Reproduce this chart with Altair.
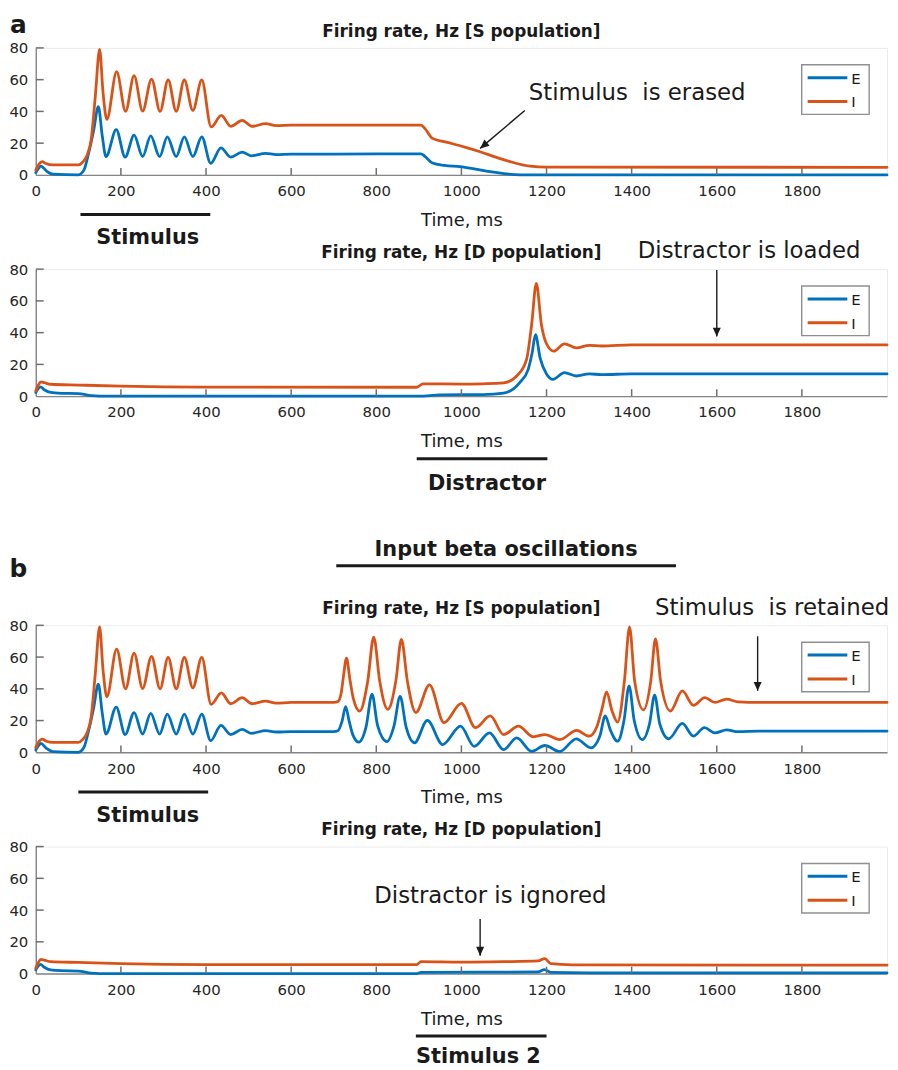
import altair as alt
import pandas as pd

W, H = 858, 128
BLUE, ORANGE = "#0072BD", "#D95319"
INK = "#1a1a1a"
AXIS_GRAY = "#858585"
FONT = "DejaVu Sans"

X_TICKS = [0, 200, 400, 600, 800, 1000, 1200, 1400, 1600, 1800]
Y_TICKS = [0, 20, 40, 60, 80]
POPS = ["E", "I"]

# ---- S population, shared first 700 ms (stimulus period) ----
S_E_T = [0, 6, 12, 25, 40, 100, 113, 124, 136, 147, 156, 165, 189, 210, 231, 251, 270, 291, 309, 330,
         349, 369, 390, 411, 435, 458, 485, 506, 540, 565, 600, 700]
S_E_V = [1.5, 4, 5.6, 2.5, 0.5, 0, 3, 13.5, 28, 43, 25, 11.5, 28.5, 11.2, 25, 11.5, 24.6, 11.5, 24, 11.5,
         24, 11.5, 24, 7.3, 17, 11.2, 14.4, 12, 13.6, 12.8, 13.1, 13.1]
S_I_T = [0, 8, 15, 25, 40, 100, 110, 120, 130, 140, 150, 158, 167, 190, 211, 231, 251, 272, 292, 311,
         330, 349, 369, 390, 412, 436, 458, 485, 508, 540, 565, 600, 700]
S_I_V = [3, 7, 8.3, 7, 6.3, 6.3, 8, 12, 22, 50, 79, 52, 35, 65, 40, 62.5, 40.2, 60.4, 40, 59.8,
         40, 59.8, 40.6, 59.8, 30.2, 37.5, 30.6, 34.4, 30.6, 32.3, 31, 31.4, 31.4]

# ---- panel a, S population after 700 ms (erased) ----
A_S_E_T = [905, 915, 932, 960, 997, 1030, 1067, 1100, 1125, 1150, 2000]
A_S_E_V = [13.3, 11.5, 7.5, 6, 5.2, 3.8, 2, 0.8, 0.2, 0, 0]
A_S_I_T = [905, 915, 932, 967, 1006, 1044, 1083, 1122, 1161, 1200, 2000]
A_S_I_V = [31.4, 29, 23, 20.5, 17.7, 14.6, 11, 7.8, 5.5, 4.9, 4.8]

# ---- D population, shared start ----
D_E_T = [0, 5, 11, 20, 35, 60, 100, 130, 150]
D_E_V = [2.3, 4.5, 5.8, 4, 2.3, 1.8, 1.6, 0.3, 0]
D_I_T = [0, 6, 12, 20, 35, 100, 200, 400]
D_I_V = [3.3, 7, 9, 8.5, 7.5, 7, 6.3, 5.7]

# ---- panel a, D population (distractor loaded) ----
A_D_E_T = [900, 950, 1050, 1099, 1137, 1157, 1166, 1174, 1185, 1200, 1215, 1242, 1270, 1300, 1330, 1400, 2000]
A_D_E_V = [0, 0.8, 1, 1.9, 8.5, 16.9, 27, 38.7, 24, 14, 10.6, 14.8, 12.7, 14, 13.6, 14, 14]
A_D_I_T = [895, 910, 1000, 1050, 1099, 1130, 1153, 1165, 1176, 1188, 1200, 1217, 1242, 1270, 1300, 1330, 1400, 2000]
A_D_I_V = [5.6, 7.8, 7.6, 7.8, 8.3, 12.7, 23, 45, 71, 45, 33, 28.3, 33, 30.4, 32, 31.6, 32.3, 32.3]

# ---- panel b, S population after 700 ms (beta input, retained) ----
B_S_E_T = [710, 720, 728, 736, 745, 759, 776, 790, 803, 825, 842, 856, 870, 890, 920, 956, 998, 1030, 1066, 1099,
           1130, 1165, 1196, 1231, 1270, 1304, 1325, 1338, 1350, 1367, 1382, 1394, 1406, 1425, 1442, 1454, 1466,
           1487, 1519, 1545, 1571, 1596, 1623, 1650, 1700, 2000]
B_S_E_V = [13.6, 20, 28.8, 20, 11, 6.4, 16, 36.6, 17, 6.8, 17, 35.2, 16, 6, 20.1, 4.9, 16.5, 3.8, 12.3, 1.7,
           9.1, 0.6, 4.3, 0.5, 8.5, 2.8, 10, 22.9, 14, 7, 20, 41.9, 20, 8, 18, 36, 18,
           8.5, 18.2, 10.2, 15.5, 12.3, 14.1, 13, 13.3, 13.3]
B_S_I_T = [710, 718, 723, 730, 738, 746, 761, 780, 794, 808, 827, 846, 859, 873, 893, 925, 959, 1000, 1033, 1068,
           1099, 1134, 1169, 1196, 1231, 1271, 1300, 1318, 1330, 1341, 1354, 1367, 1383, 1395, 1407, 1428, 1445,
           1456, 1468, 1491, 1519, 1545, 1572, 1596, 1623, 1650, 1700, 2000]
B_S_I_V = [32, 38, 48, 59.3, 46, 34, 26, 45, 72.6, 45, 27.1, 45, 71.1, 45, 25, 42.5, 18.7, 30.9, 15.5, 22.9,
           11.2, 16.5, 9.8, 11.2, 8, 13.8, 10.2, 16, 27, 38, 26, 19, 45, 79, 45, 26.7, 45,
           71.5, 45, 26, 38.7, 29.6, 34.5, 31.4, 33.5, 31.8, 31.4, 31.4]

# ---- panel b, D population (distractor ignored) ----
B_D_E_T = [895, 905, 1180, 1195, 1210, 1300, 2000]
B_D_E_V = [0, 0.8, 1, 2.5, 0.8, 0.5, 0.5]
B_D_I_T = [895, 905, 1000, 1100, 1180, 1196, 1210, 1260, 2000]
B_D_I_V = [5.6, 7.5, 7.2, 7.5, 8, 9.4, 6.2, 5.5, 5.3]

x_scale = alt.Scale(domain=[0, 2000], nice=False, zero=False)
y_scale = alt.Scale(domain=[0, 80], nice=False, zero=False)
c_scale = alt.Scale(domain=POPS, range=[BLUE, ORANGE])

X = alt.X("t:Q", scale=x_scale, axis=alt.Axis(values=X_TICKS, title="Time, ms", format="d"))
Y = alt.Y("v:Q", scale=y_scale, axis=alt.Axis(values=Y_TICKS, title=None, format="d"))


def curve(tE, vE, tI, vI):
    return pd.DataFrame({
        "t": list(tE) + list(tI),
        "v": list(vE) + list(vI),
        "pop": ["E"] * len(tE) + ["I"] * len(tI),
    })


ONE = pd.DataFrame({"k": [0]})


def panel(df, title, notes, labels, bars, arrows, letter=None):
    layers = []
    layers.append(
        alt.Chart(df).mark_line(interpolate="monotone", strokeWidth=2.8, strokeJoin="round", strokeCap="round")
        .encode(x=X, y=Y, color=alt.Color("pop:N", scale=c_scale, legend=None))
    )
    # inward ticks (MATLAB style)
    layers.append(
        alt.Chart(pd.DataFrame({"t": X_TICKS[1:]}))
        .mark_tick(color="#6e6e6e", thickness=1.5, size=7, opacity=1, orient="vertical")
        .encode(x=X, y=alt.value(H - 3.5))
    )
    layers.append(
        alt.Chart(pd.DataFrame({"v": Y_TICKS[1:]}))
        .mark_tick(color="#6e6e6e", thickness=1.5, size=8, opacity=1, orient="horizontal")
        .encode(y=Y, x=alt.value(4))
    )
    if bars:
        layers.append(
            alt.Chart(pd.DataFrame(bars)).mark_rule(color=INK, strokeWidth=3)
            .encode(x=X, x2="t2:Q", y=Y)
        )
    if arrows:
        layers.append(
            alt.Chart(pd.DataFrame(arrows)).mark_rule(color=INK, strokeWidth=1.4)
            .encode(x=X, x2="t2:Q", y=Y, y2="v2:Q")
        )
        heads = pd.DataFrame({"t": [a["t2"] for a in arrows], "v": [a["v2"] for a in arrows],
                              "ang": [a["ang"] for a in arrows]})
        layers.append(
            alt.Chart(heads).mark_point(shape="M0,0L-0.45,-1L0.45,-1Z", filled=True, size=324,
                                        color=INK, opacity=1, strokeWidth=0)
            .encode(x=X, y=Y, angle=alt.Angle("ang:Q", scale=None))
        )
    layers.append(
        alt.Chart(pd.DataFrame({"t": [1000], "v": [87], "label": [title]}))
        .mark_text(font=FONT, fontSize=17, fontWeight="bold", baseline="alphabetic", align="center", color=INK)
        .encode(x=X, y=Y, text="label:N")
    )
    if notes:
        layers.append(
            alt.Chart(pd.DataFrame(notes))
            .mark_text(font=FONT, fontSize=23, baseline="alphabetic", align="center", color=INK)
            .encode(x=X, y=Y, text="label:N")
        )
    if labels:
        layers.append(
            alt.Chart(pd.DataFrame(labels))
            .mark_text(font=FONT, fontSize=21, fontWeight="bold", baseline="alphabetic", align="center", color=INK)
            .encode(x=X, y=Y, text="label:N")
        )
    if letter:
        layers.append(
            alt.Chart(ONE).mark_text(text=letter[0], font=FONT, fontSize=25, fontWeight="bold",
                                     baseline="alphabetic", align="center", color=INK)
            .encode(x=alt.value(-17.5), y=alt.value(letter[1]))
        )
    # legend box
    layers.append(
        alt.Chart(ONE).mark_rect(fill="white", stroke="#8f8f8f", strokeWidth=1.4)
        .encode(x=alt.value(772), x2=alt.value(840), y=alt.value(17), y2=alt.value(67))
    )
    for i, p in enumerate(POPS):
        d = pd.DataFrame({"pop": [p]})
        layers.append(
            alt.Chart(d).mark_rule(strokeWidth=3)
            .encode(x=alt.value(778), x2=alt.value(818), y=alt.value(30 + 24 * i),
                    color=alt.Color("pop:N", scale=c_scale, legend=None))
        )
        layers.append(
            alt.Chart(d).mark_text(font=FONT, fontSize=15, align="left", baseline="middle", color=INK)
            .encode(x=alt.value(822), y=alt.value(31 + 24 * i), text="pop:N")
        )
    return alt.layer(*layers).properties(width=W, height=H)


p1 = panel(
    curve(S_E_T + A_S_E_T, S_E_V + A_S_E_V, S_I_T + A_S_I_T, S_I_V + A_S_I_V),
    "Firing rate, Hz [S population]",
    notes=[{"t": 1413, "v": 46.9, "label": "Stimulus\u00a0\u00a0is erased"}],
    labels=[{"t": 263, "v": -43.75, "label": "Stimulus"}],
    bars=[{"t": 105, "t2": 410, "v": -25}],
    arrows=[{"t": 1149, "v": 40.6, "t2": 1044, "v2": 16.7, "ang": 50}],
    letter=("a", -15),
)
p2 = panel(
    curve(D_E_T + A_D_E_T, D_E_V + A_D_E_V, D_I_T + A_D_I_T, D_I_V + A_D_I_V),
    "Firing rate, Hz [D population]",
    notes=[{"t": 1676, "v": 86.9, "label": "Distractor is loaded"}],
    labels=[{"t": 1060, "v": -59.4, "label": "Distractor"}],
    bars=[{"t": 895, "t2": 1202, "v": -39.4}],
    arrows=[{"t": 1600, "v": 79.4, "t2": 1600, "v2": 37.5, "ang": 0}],
)
p3 = panel(
    curve(S_E_T + B_S_E_T, S_E_V + B_S_E_V, S_I_T + B_S_I_T, S_I_V + B_S_I_V),
    "Firing rate, Hz [S population]",
    notes=[{"t": 1730, "v": 86.4, "label": "Stimulus\u00a0\u00a0is retained"}],
    labels=[{"t": 263, "v": -43.75, "label": "Stimulus"},
            {"t": 1105, "v": 123.9, "label": "Input beta oscillations"}],
    bars=[{"t": 100, "t2": 405, "v": -25}, {"t": 706, "t2": 1504, "v": 117.5}],
    arrows=[{"t": 1696, "v": 73.1, "t2": 1696, "v2": 38.75, "ang": 0}],
    letter=("b", -49),
)
p4 = panel(
    curve(D_E_T + B_D_E_T, D_E_V + B_D_E_V, D_I_T + B_D_I_T, D_I_V + B_D_I_V),
    "Firing rate, Hz [D population]",
    notes=[{"t": 1068, "v": 44.6, "label": "Distractor is ignored"}],
    labels=[{"t": 1040, "v": -56.25, "label": "Stimulus 2"}],
    bars=[{"t": 893, "t2": 1200, "v": -39.4}],
    arrows=[{"t": 1044, "v": 34.4, "t2": 1044, "v2": 11.25, "ang": 0}],
)

spacer = alt.Chart(ONE).mark_text(text=" ").properties(
    width=W, height=41, view=alt.ViewBackground(stroke=None)
)

chart = (
    alt.vconcat(p1, p2, spacer, p3, p4, spacing=95, bounds="flush")
    .properties(padding={"left": 0, "top": 0, "right": 0, "bottom": 2}, background="white")
    .configure(font=FONT)
    .configure_view(stroke="#ebebeb", strokeWidth=1)
    .configure_axis(domainColor=AXIS_GRAY, domainWidth=1.4, ticks=False, grid=False,
                    labelFont=FONT, labelFontSize=15, labelColor="#262626",
                    titleFont=FONT, titleFontSize=18, titleFontWeight="normal", titleColor=INK,
                    labelFlush=False, labelOverlap=False)
    .configure_axisX(labelPadding=9, titlePadding=13)
    .configure_axisY(labelPadding=8)
)

chart.save("out.html", embed_options={"renderer": "svg", "actions": False})
